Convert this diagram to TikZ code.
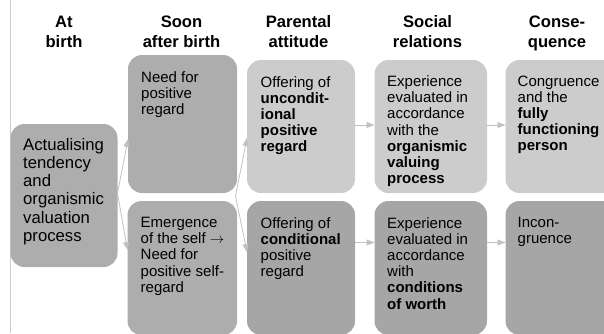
\documentclass[tikz,border=0pt]{standalone}
\usepackage{fontspec}
\setmainfont{Liberation Sans}
\usetikzlibrary{arrows.meta}

\definecolor{midgrey}{HTML}{ADADAD}
\definecolor{lightgrey}{HTML}{CCCCCC}
\definecolor{darkgrey}{HTML}{A6A6A6}
\definecolor{arrowgrey}{HTML}{C2C2C2}

\begin{document}
\begin{tikzpicture}[x=1pt, y=-1pt,
   stage/.style={rectangle, rounded corners=14pt, inner sep=0pt, outer sep=0pt, anchor=north west},
   txt/.style={anchor=north west, align=left, inner sep=0pt, font=\fontsize{15}{16.2}\selectfont},
   head/.style={anchor=north, align=center, inner sep=0pt, font=\fontsize{16.6}{20}\selectfont\bfseries},
   flow/.style={draw=arrowgrey, line width=0.8pt, -{Triangle[length=8pt,width=6pt]}}]
   \useasboundingbox (0,0) rectangle (604,333);
   \draw[lightgrey, line width=1pt] (10,0) -- (10,333);

   \node[head] (hbirth) at (64,16) {At\\birth};
   \node[head] (hsoon) at (181.5,15.5) {Soon\\after birth};
   \node[head] (hparent) at (298.5,15.5) {Parental\\attitude};
   \node[head] (hsocial) at (427.5,15.5) {Social\\relations};
   \node[head] (hcons) at (557,15.5) {Conse-\\quence};

   \node[stage, fill=midgrey, minimum width=107pt, minimum height=143pt] (act) at (10.5,124) {};
   \node[stage, fill=midgrey, minimum width=109pt, minimum height=138pt] (need) at (128,55) {};
   \node[stage, fill=midgrey, minimum width=109.5pt, minimum height=134pt] (self) at (127.5,201) {};
   \node[stage, fill=lightgrey, minimum width=108pt, minimum height=133pt] (uncond) at (247,60) {};
   \node[stage, fill=darkgrey, minimum width=108pt, minimum height=134pt] (cond) at (247,201) {};
   \node[stage, fill=lightgrey, minimum width=112.5pt, minimum height=133pt] (valuing) at (374.5,60) {};
   \node[stage, fill=darkgrey, minimum width=112.5pt, minimum height=134pt] (worth) at (374.5,201) {};
   \node[stage, fill=lightgrey, minimum width=112pt, minimum height=133pt] (congr) at (505.5,60) {};
   \node[stage, fill=darkgrey, minimum width=112pt, minimum height=134pt] (incongr) at (505.5,201) {};

   \node[txt, font=\fontsize{16.7}{18.2}\selectfont] at ([xshift=12.5pt,yshift=-14pt]act.north west)
      {Actualising\\tendency\\and\\organismic\\valuation\\process};
   \node[txt] at ([xshift=13pt,yshift=-16.5pt]need.north west) {Need for\\positive\\regard};
   \node[txt] at ([xshift=13pt,yshift=-16pt]self.north west)
      {Emergence\\of the self $\rightarrow$\\Need for\\positive self-\\regard};
   \node[txt] at ([xshift=13.5pt,yshift=-16pt]uncond.north west)
      {Offering of\\\textbf{uncondit-}\\\textbf{ional}\\\textbf{positive}\\\textbf{regard}};
   \node[txt] at ([xshift=13.5pt,yshift=-16pt]cond.north west)
      {Offering of\\\textbf{conditional}\\positive\\regard};
   \node[txt] at ([xshift=12.5pt,yshift=-15.5pt]valuing.north west)
      {Experience\\evaluated in\\accordance\\with the\\\textbf{organismic}\\\textbf{valuing}\\\textbf{process}};
   \node[txt] at ([xshift=12.5pt,yshift=-16pt]worth.north west)
      {Experience\\evaluated in\\accordance\\with\\\textbf{conditions}\\\textbf{of worth}};
   \node[txt] at ([xshift=12pt,yshift=-15.5pt]congr.north west)
      {Congruence\\and the\\\textbf{fully}\\\textbf{functioning}\\\textbf{person}};
   \node[txt] at ([xshift=12pt,yshift=-16pt]incongr.north west) {Incon-\\gruence};

   \coordinate (fa) at ([yshift=2pt]act.east);
   \coordinate (fb) at ([xshift=-1.5pt,yshift=-3pt]need.south east);
   \draw[flow] (fa) -- ([yshift=-15pt]need.west);
   \draw[flow] (fa) -- ([yshift=18pt]self.west);
   \draw[flow] (fb) -- ([yshift=-11.5pt]uncond.west);
   \draw[flow] (fb) -- ([yshift=16pt]cond.west);
   \draw[flow] ([yshift=1.5pt]uncond.east) -- ([yshift=1.5pt]valuing.west);
   \draw[flow] ([yshift=25.5pt]cond.east) -- ([yshift=25.5pt]worth.west);
   \draw[flow] ([yshift=1.5pt]valuing.east) -- ([yshift=1.5pt]congr.west);
   \draw[flow] ([yshift=25.5pt]worth.east) -- ([yshift=25.5pt]incongr.west);
\end{tikzpicture}
\end{document}
